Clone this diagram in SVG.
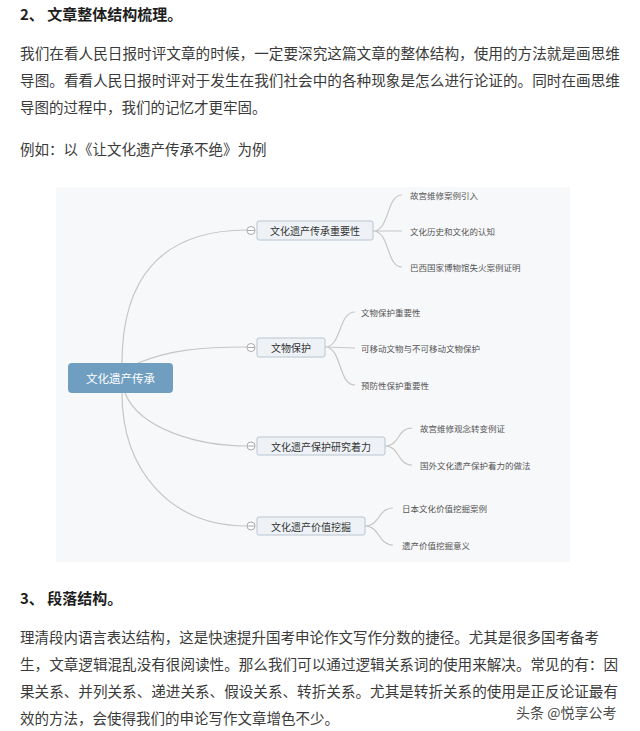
<svg xmlns="http://www.w3.org/2000/svg" width="640" height="731" viewBox="0 0 640 731">
<style>
.h{font-family:"Noto Sans CJK SC","Noto Sans",sans-serif;font-weight:bold;font-size:15px;fill:#1e1e1e}
.p{font-family:"Noto Sans CJK SC","Noto Sans",sans-serif;font-size:14.5px;fill:#3a3a3a}
.n{font-family:"Noto Sans CJK SC",sans-serif;font-size:10px;fill:#333;text-anchor:middle;dominant-baseline:central}
.l{font-family:"Noto Sans CJK SC",sans-serif;font-size:8.5px;fill:#555;dominant-baseline:central}
.box{fill:#eef2f7;stroke:#b9c4cf;stroke-width:1}
.c{fill:none;stroke:#c6c6c6;stroke-width:1.2}
.k{fill:#fff;stroke:#aaa;stroke-width:1}
</style>
<rect width="640" height="731" fill="#fff"/>
<g id="text-top">
<text class="h" x="20" y="20">2、 文章整体结构梳理。</text>
<text class="p" x="20" y="59" textLength="600" lengthAdjust="spacingAndGlyphs">我们在看人民日报时评文章的时候，一定要深究这篇文章的整体结构，使用的方法就是画思维</text>
<text class="p" x="20" y="86" textLength="600" lengthAdjust="spacingAndGlyphs">导图。看看人民日报时评对于发生在我们社会中的各种现象是怎么进行论证的。同时在画思维</text>
<text class="p" x="20" y="113">导图的过程中，我们的记忆才更牢固。</text>
<text class="p" x="20" y="155">例如：以《让文化遗产传承不绝》为例</text>
</g>
<rect x="56" y="187" width="514" height="375" fill="#f7f8fa"/>
<g id="connectors">
<path class="c" d="M122,363 C122,280 160,230 247,230"/>
<path class="c" d="M138,363 C170,350 200,347 247,347"/>
<path class="c" d="M125,393 C140,430 200,446 247,446"/>
<path class="c" d="M122,393 C122,470 170,526 247,526"/>
<path class="c" d="M373,231 C390,231 386,195 402,195 M373,231 L402,231 M373,231 C390,231 386,267 402,267"/>
<path class="c" d="M325,347 C342,347 338,312 355,312 M325,347 L355,348 M325,347 C342,347 338,385 355,385"/>
<path class="c" d="M385,446 C400,446 397,428 412,428 M385,446 C400,446 397,465 412,465"/>
<path class="c" d="M365,526 C380,526 378,508 393,508 M365,526 C380,526 378,545 393,545"/>
</g>
<g id="root">
<rect x="68" y="363" width="105" height="30" rx="4" fill="#6f9ec1"/>
<text x="120.5" y="378" font-family="Noto Sans CJK SC,sans-serif" font-size="11.5" fill="#fff" text-anchor="middle" dominant-baseline="central">文化遗产传承</text>
</g>
<g id="n1">
<rect class="box" x="257" y="221" width="116" height="19" rx="2"/>
<circle class="k" cx="251" cy="230.5" r="4"/><line x1="247.5" y1="230.5" x2="254.5" y2="230.5" stroke="#aaa"/>
<text class="n" x="315" y="230.5">文化遗产传承重要性</text>
</g>
<g id="n2">
<rect class="box" x="257" y="338" width="68" height="19" rx="2"/>
<circle class="k" cx="251" cy="347.5" r="4"/><line x1="247.5" y1="347.5" x2="254.5" y2="347.5" stroke="#aaa"/>
<text class="n" x="291" y="347.5">文物保护</text>
</g>
<g id="n3">
<rect class="box" x="257" y="437" width="128" height="18" rx="2"/>
<circle class="k" cx="251" cy="446" r="4"/><line x1="247.5" y1="446" x2="254.5" y2="446" stroke="#aaa"/>
<text class="n" x="321" y="446">文化遗产保护研究着力</text>
</g>
<g id="n4">
<rect class="box" x="257" y="517" width="108" height="18" rx="2"/>
<circle class="k" cx="251" cy="526" r="4"/><line x1="247.5" y1="526" x2="254.5" y2="526" stroke="#aaa"/>
<text class="n" x="311" y="526">文化遗产价值挖掘</text>
</g>
<g id="leaves">
<text class="l" x="410" y="195">故宫维修案例引入</text>
<text class="l" x="410" y="231">文化历史和文化的认知</text>
<text class="l" x="410" y="267">巴西国家博物馆失火案例证明</text>
<text class="l" x="361" y="312">文物保护重要性</text>
<text class="l" x="361" y="348">可移动文物与不可移动文物保护</text>
<text class="l" x="361" y="385">预防性保护重要性</text>
<text class="l" x="420" y="428">故宫维修观念转变例证</text>
<text class="l" x="420" y="465">国外文化遗产保护着力的做法</text>
<text class="l" x="402" y="508">日本文化价值挖掘案例</text>
<text class="l" x="402" y="545">遗产价值挖掘意义</text>
</g>
<g id="text-bottom">
<text class="h" x="20" y="604">3、 段落结构。</text>
<text class="p" x="20" y="643" textLength="579" lengthAdjust="spacingAndGlyphs">理清段内语言表达结构，这是快速提升国考申论作文写作分数的捷径。尤其是很多国考备考</text>
<text class="p" x="20" y="670" textLength="598" lengthAdjust="spacingAndGlyphs">生，文章逻辑混乱没有很阅读性。那么我们可以通过逻辑关系词的使用来解决。常见的有：因</text>
<text class="p" x="20" y="697" textLength="598" lengthAdjust="spacingAndGlyphs">果关系、并列关系、递进关系、假设关系、转折关系。尤其是转折关系的使用是正反论证最有</text>
<text class="p" x="20" y="724">效的方法，会使得我们的申论写作文章增色不少。</text>
<text x="516" y="718" font-family="Noto Sans CJK SC,sans-serif" font-size="14" fill="#4a4a4a" stroke="#fff" stroke-width="0.6" paint-order="stroke">头条 @悦享公考</text>
</g>
</svg>
